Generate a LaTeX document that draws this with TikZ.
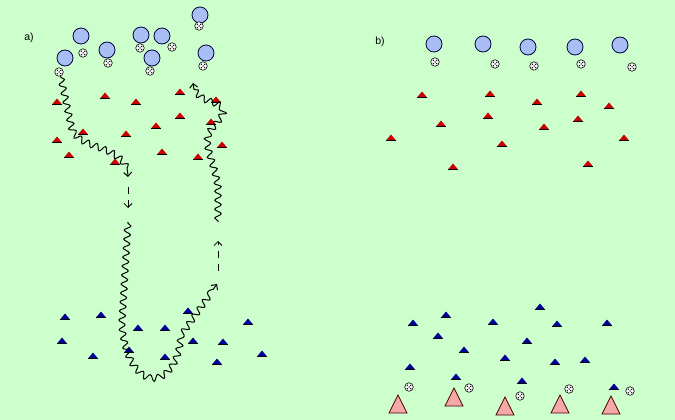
\documentclass[tikz,border=0pt]{standalone}
\usepackage{fontspec}
\setsansfont{Liberation Sans}
\usetikzlibrary{decorations.pathmorphing,arrows.meta}
\definecolor{pitch}{RGB}{204,255,204}
\definecolor{shirt}{RGB}{168,190,245}
\definecolor{conered}{RGB}{200,0,0}
\definecolor{coneblue}{RGB}{0,0,150}
\definecolor{pylonpink}{RGB}{245,168,168}
\tikzset{player/.style={draw=black!75!blue,fill=shirt,circle,minimum size=16pt,inner sep=0pt,line width=0.8pt},
  ball/.style={draw,fill=white,circle,minimum size=8.5pt,inner sep=0pt,line width=0.6pt,
    path picture={\foreach \dx/\dy in {-1.7/-1.7,1.7/-1.7,-1.7/1.7,1.7/1.7,0/0}
      \fill[black] ([xshift=\dx pt,yshift=\dy pt]path picture bounding box.center) circle (0.75pt);}},
  pics/cone/.style={code={\fill[#1] (-5,2.5) -- (0,-3.5) -- (5,2.5) -- cycle;
      \draw[line width=0.8pt] (-5,2.5) -- (5,2.5);}},
  pics/pylon/.style={code={\filldraw[fill=pylonpink,draw=black!70!red,line width=0.8pt] (-9,9) -- (0,-9) -- (9,9) -- cycle;}},
  dribble/.style={decorate,decoration={snake,amplitude=3.2pt,segment length=9pt,pre length=1pt,post length=5pt},
    -{Straight Barb[length=4pt,width=8pt]},line width=1pt},
  run/.style={dash pattern=on 7pt off 6pt,-{Straight Barb[length=4pt,width=8pt]},line width=0.8pt},
  lbl/.style={font=\sffamily\fontsize{10.5}{12}\selectfont}}
\begin{document}
\begin{tikzpicture}[x=1pt,y=-1pt]
  \fill[pitch] (0,0) rectangle (675,420);
  \useasboundingbox (0,0) rectangle (675,420);

  % a) players and balls
  \node[lbl] (la) at (29,38) {a)};
  \foreach \n/\x/\y in {1/65/58,2/81/36,3/107/50,4/141/35,5/162/36,6/152/58,7/200/15,8/206/53}
    \node[player] (pa\n) at (\x,\y) {};
  \foreach \n/\x/\y in {1/59/72,2/83/53,3/108/63,4/140/48,5/172/47,6/150/71,7/199/26,8/203/66}
    \node[ball] (ba\n) at (\x,\y) {};

  % a) cones
  \foreach \x/\y in {57/102,105/96,136/102,180/92,216/100,180/116,156/126,211/122,
                     83/132,126/134,57/140,222/145,69/155,162/152,198/157,115/162}
    \pic at (\x,\y) {cone=conered};
  \foreach \x/\y in {65/317,101/315,188/311,248/322,138/328,165/328,62/341,193/341,
                     223/342,129/350,93/356,165/357,217/362,262/354}
    \pic at (\x,\y) {cone=coneblue};

  % a) runs
  \coordinate (e1) at (128,177);
  \coordinate (d1s) at (128,187);
  \coordinate (d1e) at (128,208);
  \coordinate (s2) at (128,222);
  \coordinate (e2) at (217,284);
  \coordinate (d2s) at (218,271);
  \coordinate (d2e) at (218,241);
  \coordinate (s3) at (218,222);
  \coordinate (e3) at (193,83);
  \draw[dribble] (ba1.-70) -- (71,125) .. controls (76,150) and (128,140) .. (e1);
  \draw[dribble] (s2) -- (122,322) .. controls (128,392) and (176,390) .. (181,335) -- (e2);
  \draw[dribble] (s3) -- (218,190) .. controls (214,160) and (200,145) .. (212,130)
    .. controls (222,118) and (230,110) .. (215,105) .. controls (200,100) and (194,96) .. (e3);
  \draw[run] (d1s) -- (d1e);
  \draw[run] (d2s) -- (d2e);

  % b) players and balls
  \node[lbl] (lb) at (380,42) {b)};
  \foreach \n/\x/\y in {1/434/44,2/483/44,3/528/47,4/575/47,5/620/45}
    \node[player] (pb\n) at (\x,\y) {};
  \foreach \n/\x/\y in {1/435/62,2/495/64,3/534/66,4/581/64,5/632/67}
    \node[ball] (bb\n) at (\x,\y) {};

  % b) cones
  \foreach \x/\y in {422/95,490/94,537/102,581/94,609/106,441/124,488/116,544/127,
                     578/119,391/138,502/144,624/138,453/167,588/164}
    \pic at (\x,\y) {cone=conered};
  \foreach \x/\y in {413/323,446/315,493/322,540/307,557/324,607/323,438/336,464/350,
                     527/341,505/358,555/362,585/360,410/367,456/377,522/381,614/387}
    \pic at (\x,\y) {cone=coneblue};

  % b) pylons and balls
  \foreach \x/\y in {398/404,454/397,505/406,560/404,611/405}
    \pic at (\x,\y) {pylon};
  \foreach \n/\x/\y in {1/409/387,2/469/388,3/520/396,4/569/389,5/630/391}
    \node[ball] (bc\n) at (\x,\y) {};
\end{tikzpicture}
\end{document}
